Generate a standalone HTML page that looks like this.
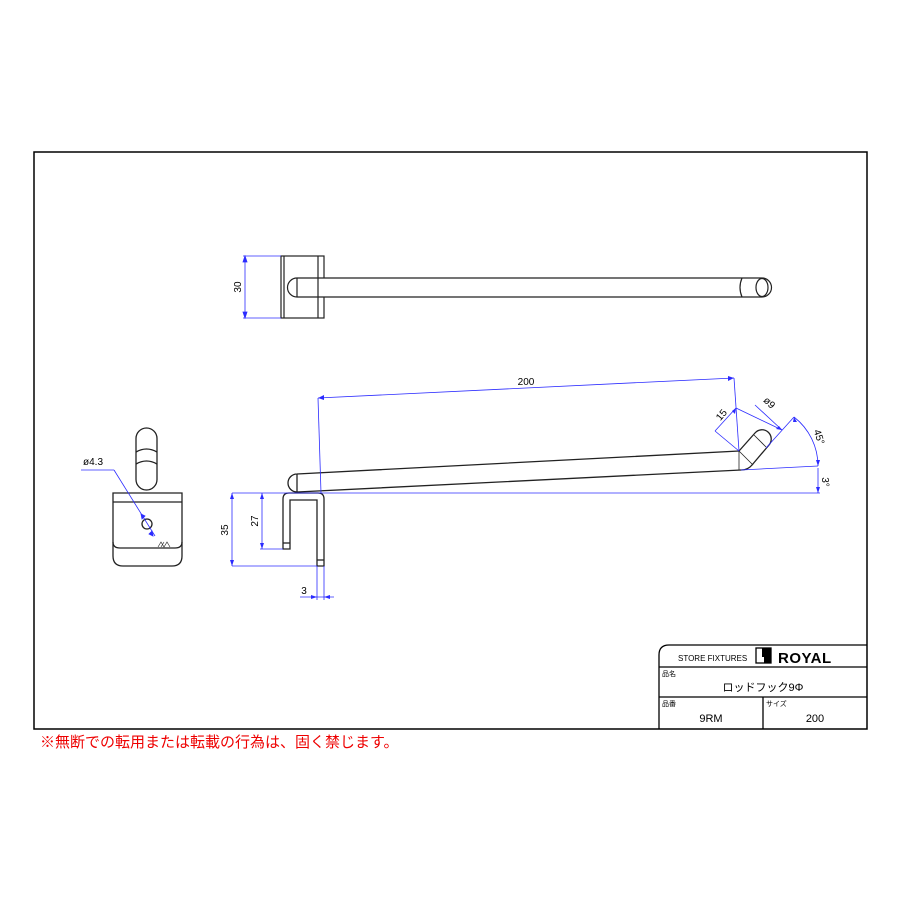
<!DOCTYPE html>
<html><head><meta charset="utf-8"><style>
body{margin:0;background:#fff;}
svg{display:block}
text{font-family:"Liberation Sans","Noto Sans CJK JP",sans-serif;}
</style></head><body>
<svg width="900" height="900" viewBox="0 0 900 900" xmlns="http://www.w3.org/2000/svg">
<rect x="0" y="0" width="900" height="900" fill="#fff"/>
<rect x="34" y="152" width="833" height="577" fill="none" stroke="#000" stroke-width="1.5"/>

<!-- top view -->
<g fill="none" stroke="#222" stroke-width="1.2">
<rect x="281" y="256" width="43" height="62"/>
<line x1="284" y1="256" x2="284" y2="318"/>
<line x1="318" y1="256" x2="318" y2="318"/>
<path d="M297 278 H762 A9.5 9.5 0 0 1 762 297 H297 A9.5 9.5 0 0 1 297 278 Z" fill="#fff"/>
<line x1="297" y1="278" x2="297" y2="297"/>
<line x1="318" y1="278" x2="318" y2="297"/>
<path d="M742 278 q-4 9.5 0 19"/>
<ellipse cx="762" cy="287.5" rx="6" ry="9"/>
</g>
<g stroke="#2b2bff" stroke-width="0.8" fill="#2b2bff">
<line x1="243" y1="256" x2="281" y2="256"/><line x1="243" y1="318" x2="281" y2="318"/>
<line x1="245" y1="256" x2="245" y2="318"/>
<path d="M245 256 l-2 6 h4z M245 318 l-2 -6 h4z"/>
</g>
<text transform="translate(241,287) rotate(-90)" font-size="10" text-anchor="middle">30</text>

<!-- side view -->
<g fill="none" stroke="#222" stroke-width="1.3">
<path d="M297 474 L739 451 L755 433 A8.5 8.5 0 0 1 769 445 L752 465 Q748 470 741 470 L297 492 A9 9 0 0 1 297 474 Z" fill="#fff"/>
<line x1="297" y1="474" x2="297" y2="492"/>
<line x1="739" y1="451" x2="739" y2="470" stroke-width="0.8"/>
<line x1="739" y1="451" x2="753" y2="465" stroke-width="0.8"/>
<line x1="754" y1="435" x2="766" y2="447" stroke-width="0.8"/>
<path d="M283 549 V499 Q283 493 289 493 H318 Q324 493 324 499 V566 H317 V500 H290 V549 Z" fill="#fff"/>
<line x1="283" y1="543" x2="290" y2="543"/>
<line x1="317" y1="560" x2="324" y2="560"/>
</g>
<g stroke="#2b2bff" stroke-width="0.8" fill="none">
<line x1="283" y1="493" x2="820" y2="493"/>
<line x1="741" y1="470" x2="818" y2="466"/>
<line x1="318" y1="398" x2="321" y2="493"/>
<line x1="734" y1="378" x2="739" y2="451"/>
<line x1="318" y1="398" x2="734" y2="378"/>
<line x1="736" y1="408" x2="715" y2="431"/>
<line x1="715" y1="431" x2="739" y2="451"/>
<line x1="736" y1="408" x2="782" y2="430"/>
<line x1="755" y1="405" x2="782" y2="430"/>
<line x1="766" y1="448" x2="794" y2="417"/>
<path d="M794 417 A62 62 0 0 1 818 466"/>
<path d="M818 468 L818 493"/>
<line x1="232" y1="493" x2="283" y2="493"/>
<line x1="232" y1="566" x2="317" y2="566"/>
<line x1="232" y1="493" x2="232" y2="566"/>
<line x1="260" y1="549" x2="283" y2="549"/>
<line x1="262" y1="493" x2="262" y2="549"/>
<line x1="317" y1="566" x2="317" y2="600"/>
<line x1="324" y1="566" x2="324" y2="600"/>
<line x1="300" y1="597" x2="334" y2="597"/>
</g>
<g fill="#2b2bff">
<path d="M318 398 l6 -3 v5z M734 378 l-6 -2 v5z M232 493 l-2 6 h4z M232 566 l-2 -6 h4z M262 493 l-2 6 h4z M262 549 l-2 -6 h4z M317 597 l-6 -2 v4z M324 597 l6 -2 v4z M818 466 l-2 -6 h4z M818 493 l-2 -6 h4z M794 417 l3 5 l-4 0z M736 408 l-1 6 l-3 -3z M782 430 l-6 -1 l3 -3z"/>
</g>
<text x="526" y="385" font-size="10" text-anchor="middle">200</text>
<text transform="translate(724,417) rotate(-50)" font-size="10" text-anchor="middle">15</text>
<text transform="translate(767,405) rotate(45)" font-size="10" text-anchor="middle">ø9</text>
<text transform="translate(816,438) rotate(72)" font-size="10" text-anchor="middle">45°</text>
<text transform="translate(822,482) rotate(90)" font-size="10" text-anchor="middle">3°</text>
<text transform="translate(228,530) rotate(-90)" font-size="10" text-anchor="middle">35</text>
<text transform="translate(258,521) rotate(-90)" font-size="10" text-anchor="middle">27</text>
<text x="304" y="594" font-size="10" text-anchor="middle">3</text>

<!-- front view -->
<g fill="none" stroke="#222" stroke-width="1.3">
<rect x="136" y="428" width="21" height="62" rx="10.5" fill="#fff"/>
<path d="M136 452 Q146.5 446 157 452"/>
<path d="M136 464 Q146.5 458 157 464"/>
<path d="M113 493 H182 V556 Q182 566 172 566 H123 Q113 566 113 556 Z" fill="#fff"/>
<line x1="113" y1="502" x2="182" y2="502"/>
<path d="M113 542 Q113 548 120 548 H175 Q182 548 182 542"/>
<circle cx="147" cy="524" r="5"/>
<path d="M158 547 l3 -5 l3 5 l3 -5 l3 5 M161 547 l3 -5" stroke-width="0.6"/>
</g>
<g stroke="#2b2bff" stroke-width="0.8" fill="#2b2bff">
<line x1="81" y1="470" x2="114" y2="470" fill="none"/>
<line x1="114" y1="470" x2="155" y2="536" fill="none"/>
<path d="M142 519 l-1 -5 l4 2z M152 531 l1 5 l-4 -2z"/>
</g>
<text x="83" y="465" font-size="10">ø4.3</text>

<!-- title block -->
<g fill="none" stroke="#000" stroke-width="1.3">
<path d="M659 729 V655 Q659 645 669 645 H867"/>
<line x1="659" y1="667" x2="867" y2="667"/>
<line x1="659" y1="697" x2="867" y2="697"/>
<line x1="763" y1="697" x2="763" y2="729"/>
</g>
<text x="678" y="661" font-size="8">STORE FIXTURES</text>
<rect x="756" y="648" width="15" height="15" fill="none" stroke="#000" stroke-width="1.3"/>
<rect x="762" y="648" width="9" height="9" fill="#000"/>
<rect x="764" y="656" width="7" height="7" fill="#000"/>
<text x="778" y="663" font-size="15" font-weight="bold" letter-spacing="0.5">ROYAL</text>
<text x="662" y="676" font-size="7">品名</text>
<text x="763" y="691" font-size="11" text-anchor="middle">ロッドフック9Φ</text>
<text x="662" y="706" font-size="7">品番</text>
<text x="711" y="722" font-size="11" text-anchor="middle">9RM</text>
<text x="766" y="706" font-size="7">サイズ</text>
<text x="815" y="722" font-size="11" text-anchor="middle">200</text>

<text x="40" y="747" font-size="15" fill="#e00">※無断での転用または転載の行為は、固く禁じます。</text>
</svg>
</body></html>
